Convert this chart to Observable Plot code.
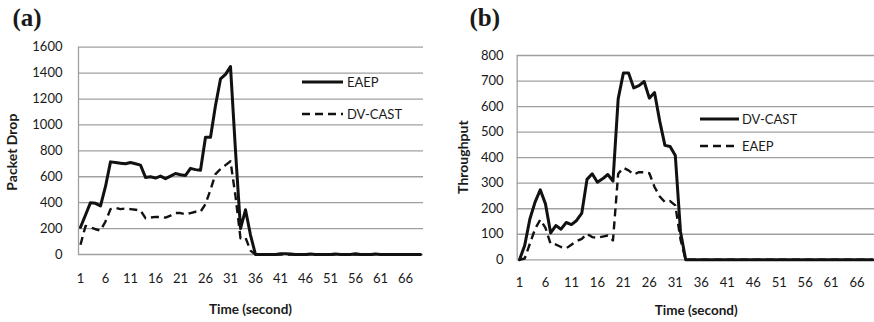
<!DOCTYPE html>
<html><head><meta charset="utf-8">
<script src="https://cdn.jsdelivr.net/npm/d3@7"></script>
<script src="https://cdn.jsdelivr.net/npm/@observablehq/plot@0.6"></script>
<style>
body{margin:0;background:#fff;}
#wrap{position:relative;width:874px;height:322px;overflow:hidden;font-family:Lato,"Open Sans",sans-serif;}
.panel{position:absolute;top:0;}
.legend{position:absolute;left:0;top:0;pointer-events:none;}
</style></head><body><div id="wrap"></div>
<script>
// ---- data ----
const seconds = Array.from({length: 69}, (_, i) => i + 1); // time categories 1..69
const xTicks = [1, 6, 11, 16, 21, 26, 31, 36, 41, 46, 51, 56, 61, 66];
const yTicksA = [0, 200, 400, 600, 800, 1000, 1200, 1400, 1600];
const yTicksB = [0, 100, 200, 300, 400, 500, 600, 700, 800];

// (a) Packet Drop
const dropEAEP = [210,305,400,395,375,525,715,710,705,700,710,700,690,595,600,590,605,585,605,625,615,610,665,655,650,905,905,1150,1355,1390,1450,800,200,345,150,0,0,0,0,0,5,6,4,0,0,0,3,0,0,0,0,4,0,0,0,6,0,0,0,3,0,0,0,0,0,0,0,0,0];
const dropDVCAST = [75,220,210,195,185,255,350,360,350,355,350,345,340,280,285,290,290,285,300,320,320,310,320,330,330,390,500,620,660,690,720,450,125,130,30,0,0,0,0,0,0,0,0,0,0,0,0,0,0,0,0,0,0,0,0,0,0,0,0,0,0,0,0,0,0,0,0,0,0];

// (b) Throughput
const thrDVCAST = [0,56,160,226,274,219,105,134,120,146,138,154,183,315,337,304,317,334,308,630,731,731,673,682,698,633,655,543,448,444,408,110,0,0,0,0,0,0,0,0,0,0,0,0,0,0,0,0,0,0,0,0,0,0,0,0,0,0,0,0,0,0,0,0,0,0,0,0,0];
const thrEAEP = [0,5,63,121,157,125,62,60,50,45,59,73,82,102,89,86,91,95,76,337,360,350,334,343,343,339,285,248,226,230,213,80,0,0,0,0,0,0,0,0,0,0,0,0,0,0,0,0,0,0,0,0,0,0,0,0,0,0,0,0,0,0,0,0,0,0,0,0,0];

const namesA = ["EAEP", "DV-CAST"];   // solid, dashed
const namesB = ["DV-CAST", "EAEP"];   // solid, dashed
const xTitle = "Time (second)";

const toRows = (vals) => seconds.map((t, i) => ({t, v: vals[i]}));

function panel(o) {
  const fam = "Lato, 'Open Sans', sans-serif";
  const chart = Plot.plot({
    width: o.width, height: 322,
    marginLeft: o.mL, marginRight: o.mR, marginTop: o.mT, marginBottom: o.mB,
    x: {domain: o.xDomain},
    y: {domain: o.yDomain},
    style: {fontFamily: fam, fontSize: "13px", color: "#1a1a1a", background: "transparent", overflow: "visible"},
    marks: [
      Plot.ruleY(o.yTicks, {stroke: "#a0a0a0", strokeWidth: 1.3}),
      Plot.ruleX([o.xDomain[0]], {stroke: "#a0a0a0", strokeWidth: 1.3}),
      Plot.axisY({ticks: o.yTicks, tickSize: 0, tickPadding: o.yPad, label: null, tickFormat: d3.format("d")}),
      Plot.axisX({ticks: xTicks, tickSize: 0, tickPadding: o.xPad, label: null, tickFormat: d3.format("d")}),
      Plot.line(toRows(o.dashed), {x: "t", y: "v", stroke: "#111", strokeWidth: 2.4, strokeDasharray: "8,5", strokeLinecap: "butt"}),
      Plot.line(toRows(o.solid), {x: "t", y: "v", stroke: "#111", strokeWidth: 3}),
      Plot.text([o.yLabel], {text: d => d, frameAnchor: "left", rotate: -90, dx: o.yLabDx, dy: o.yLabDy, textAnchor: "middle", fontWeight: "bold", fontSize: 14, lineAnchor: "middle"}),
      Plot.text([xTitle], {text: d => d, frameAnchor: "bottom", dx: o.xLabDx, dy: o.xLabDy, textAnchor: "middle", fontWeight: "bold", fontSize: 13.5, lineAnchor: "middle"}),
      Plot.text([o.tag], {text: d => d, frameAnchor: "top-left", dx: o.tagDx, dy: o.tagDy, textAnchor: "start", lineAnchor: "bottom", fontFamily: "'Liberation Serif', 'DejaVu Serif', serif", fontWeight: "bold", fontSize: 25})
    ]
  });
  chart.classList.add("panel");
  chart.style.left = o.left + "px";
  return chart;
}

const wrap = document.getElementById("wrap");
wrap.appendChild(panel({
  left: 0, width: 435, mL: 78, mR: 12, mT: 46.7, mB: 68,
  xDomain: [0.6, 69.6], yDomain: [0, 1600], yTicks: yTicksA,
  solid: dropEAEP, dashed: dropDVCAST,
  yLabel: "Packet Drop", tag: "(a)",
  yPad: 16, xPad: 19.6,
  yLabDx: -66.3, yLabDy: 1.3, xLabDx: -0.5, xLabDy: 55.3, tagDx: -66, tagDy: -21.7
}));
wrap.appendChild(panel({
  left: 437, width: 437, mL: 79.7, mR: 0, mT: 55, mB: 62.7,
  xDomain: [0.56, 69.35], yDomain: [0, 800], yTicks: yTicksB,
  solid: thrDVCAST, dashed: thrEAEP,
  yLabel: "Throughput", tag: "(b)",
  yPad: 13.7, xPad: 17.7,
  yLabDx: -53.4, yLabDy: -0.5, xLabDx: 0.35, xLabDy: 50.7, tagDx: -47.7, tagDy: -30
}));

// legends
function legend(names, x1, x2, tx, ys) {
  const svg = d3.create("svg").attr("class", "legend").attr("width", 874).attr("height", 322)
    .style("font-family", "Lato, 'Open Sans', sans-serif").style("font-size", "13px");
  names.forEach((n, i) => {
    svg.append("line").attr("x1", x1).attr("x2", x2).attr("y1", ys[i]).attr("y2", ys[i])
      .attr("stroke", "#111").attr("stroke-width", i === 0 ? 3 : 2.4)
      .attr("stroke-dasharray", i === 0 ? null : "8,5");
    svg.append("text").attr("x", tx).attr("y", ys[i]).attr("dy", "0.35em").attr("fill", "#1a1a1a").text(n);
  });
  return svg.node();
}
wrap.appendChild(legend(namesA, 302, 343, 347, [82, 114]));
wrap.appendChild(legend(namesB, 700, 739, 742, [119, 146]));
</script></body></html>
